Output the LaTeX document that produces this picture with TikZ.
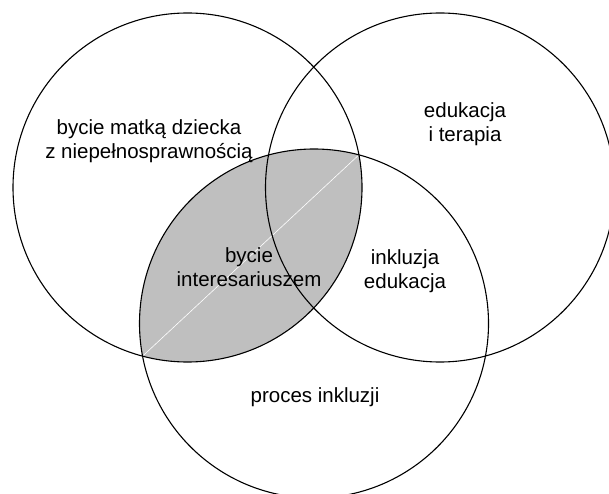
\documentclass[tikz,border=0pt]{standalone}
\usepackage{fontspec}
\setmainfont{Liberation Sans}
\usetikzlibrary{intersections}

\begin{document}
\begin{tikzpicture}[
x=1pt,y=-1pt,
venn/.style={draw,line width=1.1pt},
lbl/.style={align=center,inner sep=0pt,font=\fontsize{20.5}{24}\selectfont},
shade/.style={fill=black!25}]
\useasboundingbox (0,0) rectangle (609,494);
\clip (0,0) rectangle (609,494);
\coordinate (cmother) at (187.5,187.5);
\coordinate (ctherapy) at (440,187.5);
\coordinate (cinclusion) at (314,323.5);
% shaded overlap
\begin{scope}
\clip (cmother) circle[radius=174.5pt];
\fill[shade] (cinclusion) circle[radius=174.5pt];
\end{scope}
\path[name path=pmother] (cmother) circle[radius=174.5pt];
\path[name path=pinclusion] (cinclusion) circle[radius=174.5pt];
\path[name intersections={of=pmother and pinclusion,by={tipa,tipb}}];
\draw[white,line width=0.6pt] (tipa) -- (tipb);
\draw[venn] (cmother) circle[radius=174.5pt];
\draw[venn] (ctherapy) circle[radius=174.5pt];
\draw[venn] (cinclusion) circle[radius=174.5pt];
\node[lbl] (mother) at (149,141) {bycie matką dziecka\\z niepełnosprawnością};
\node[lbl] (therapy) at (465,124) {edukacja\\i terapia};
\node[lbl] (stakeholder) at (249,267) {bycie\\interesariuszem};
\node[lbl] (education) at (405,271) {inkluzja\\edukacja};
\node[lbl] (inclusion) at (315,397) {proces inkluzji};
\end{tikzpicture}
\end{document}
